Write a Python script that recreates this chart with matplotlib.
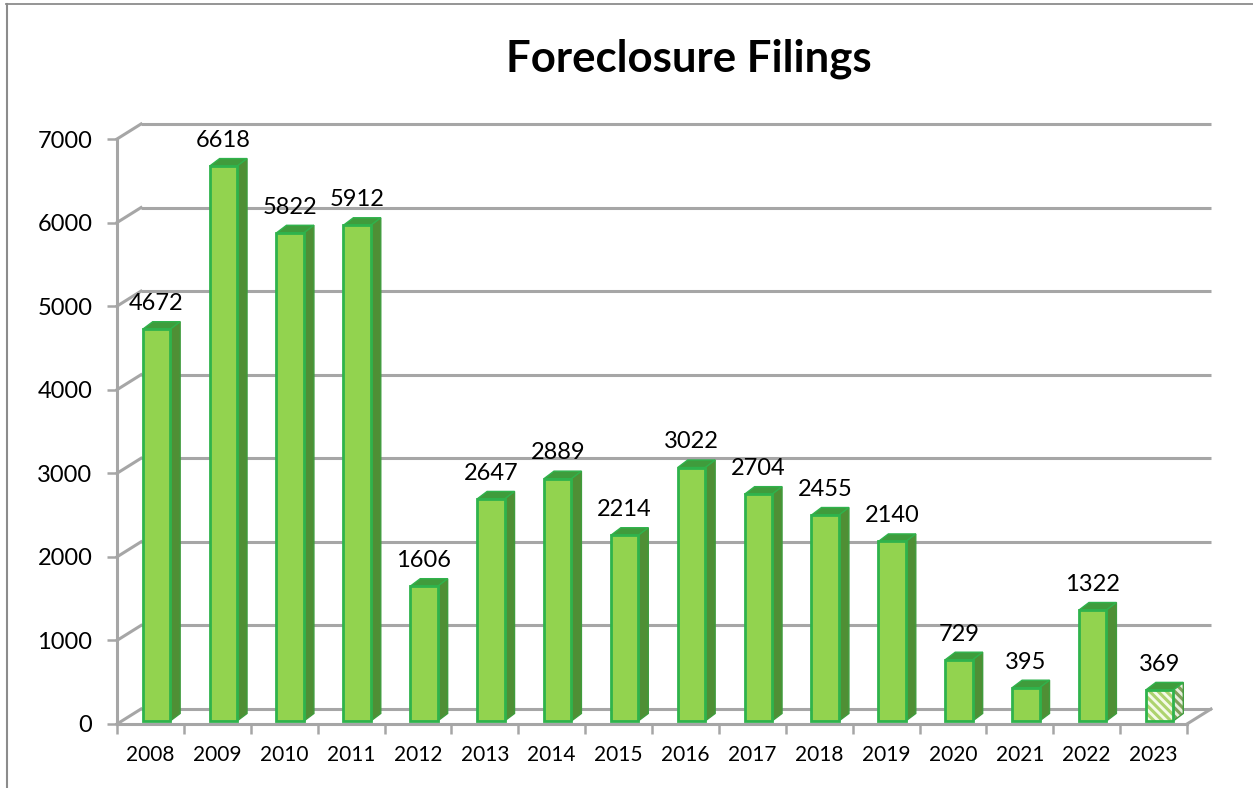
import matplotlib.pyplot as plt
from matplotlib.lines import Line2D
from matplotlib.patches import Polygon
from matplotlib.transforms import IdentityTransform, ScaledTranslation

plt.rcParams['font.family'] = ['Lato', 'DejaVu Sans']
plt.rcParams['hatch.linewidth'] = 2.2

# data
years = [2008, 2009, 2010, 2011, 2012, 2013, 2014, 2015,
         2016, 2017, 2018, 2019, 2020, 2021, 2022, 2023]
filings = [4672, 6618, 5822, 5912, 1606, 2647, 2889, 2214,
           3022, 2704, 2455, 2140, 729, 395, 1322, 369]
y_ticks = [0, 1000, 2000, 3000, 4000, 5000, 6000, 7000]
partial_year = 2023

W, H = 1253, 788
fig = plt.figure(figsize=(W / 100, H / 100), dpi=100)

# front plane of the fake 3d box, in pixels
left, right, bottom, top = 117, 1187, 724, 139
ax = fig.add_axes([left / W, 1 - bottom / H, (right - left) / W, (bottom - top) / H])
ax.set_xlim(0, len(years))
ax.set_ylim(0, 7000)
ax.axis('off')

GRID = '#a6a6a6'
FRONT = '#92d34f'
SIDE = '#4f8f35'
ROOF = '#3f9c3c'
EDGE = '#2fb34c'
DEPTH_X, DEPTH_Y = 24, 15


def slant(x, y):
    # short line going back into the box, x,y in data
    px, py = ax.transData.transform((x, y))
    ax.add_line(Line2D([px, px + DEPTH_X], [py, py + DEPTH_Y], color=GRID, lw=2.2,
                       transform=IdentityTransform(), clip_on=False, zorder=1))


wall = ax.transData + ScaledTranslation(DEPTH_X / 100, DEPTH_Y / 100, fig.dpi_scale_trans)
label_shift = ax.transData + ScaledTranslation(0, -2 / 100, fig.dpi_scale_trans)
for v in y_ticks:
    ax.plot([0, len(years)], [v, v], color=GRID, lw=2.2, transform=wall,
            clip_on=False, solid_capstyle='butt', zorder=1)
    slant(0, v)
    ax.plot([0], [v], marker=0, ms=7, mew=1.8, color=GRID, clip_on=False, zorder=1)
    ax.text(-0.37, v, str(v), ha='right', va='center', fontsize=17, color='black',
            clip_on=False, transform=label_shift)

# floor front edge and right edge, left axis
ax.plot([0, len(years)], [0, 0], color=GRID, lw=2.2, clip_on=False, zorder=1)
ax.plot([0, 0], [0, 7000], color=GRID, lw=2.2, clip_on=False, zorder=1)
slant(len(years), 0)

for i, yr in enumerate(years):
    ax.plot([i], [0], marker=3, ms=7, mew=1.8, color=GRID, clip_on=False, zorder=1)
    ax.text(i + 0.5, -370, str(yr), ha='center', va='center', fontsize=15, clip_on=False)
ax.plot([len(years)], [0], marker=3, ms=7, mew=1.8, color=GRID, clip_on=False, zorder=1)

# bars
bar_w = 0.41
bar_off = 0.59  # bars sit a bit right of the category centre
dx = 10 / 66.9
dy = 90
base = 36
for i, (yr, v) in enumerate(zip(years, filings)):
    xc = i + bar_off
    x1 = xc - bar_w / 2
    x2 = x1 + bar_w
    y2 = v * 1.003 + 38
    part = yr == partial_year
    side_pts = [(x2, base), (x2 + dx, base + dy), (x2 + dx, y2 + dy), (x2, y2)]

    if part:
        ax.add_patch(Polygon(side_pts, closed=True, facecolor='#e8eedd',
                             edgecolor='#7f9f5a', hatch='\\\\\\\\', lw=0, zorder=3))
        ax.add_patch(Polygon(side_pts, closed=True, facecolor='none',
                             edgecolor=ROOF, lw=1.0, zorder=3))
    else:
        ax.add_patch(Polygon(side_pts, closed=True, facecolor=SIDE,
                             edgecolor=ROOF, lw=1.0, zorder=3))
    ax.add_patch(Polygon([(x1, y2), (x1 + dx, y2 + dy), (x2 + dx, y2 + dy), (x2, y2)],
                         closed=True, facecolor=ROOF, edgecolor=EDGE, lw=1.0, zorder=3))
    if part:
        ax.bar(xc, y2 - base, bar_w, bottom=base, facecolor='#f4fae8',
               edgecolor='#add36e', hatch='\\\\\\\\', lw=0, zorder=4)
        ax.bar(xc, y2 - base, bar_w, bottom=base, facecolor='none',
               edgecolor=EDGE, lw=2, zorder=5)
    else:
        ax.bar(xc, y2 - base, bar_w, bottom=base, facecolor=FRONT,
               edgecolor=EDGE, lw=2, zorder=4)
    ax.annotate(str(v), (xc, y2), xytext=(0, 18.5), textcoords='offset points',
                ha='center', va='center', fontsize=17, zorder=6, annotation_clip=False)

fig.text(689 / W, 1 - 59 / H, 'Foreclosure Filings', ha='center', va='center',
         fontsize=31.5, fontweight='bold')

# chart frame, only left and top show up
fig.add_artist(Line2D([7 / W, 7 / W], [0, 1 - 3.5 / H], color='#8c8c8c', lw=1.5))
fig.add_artist(Line2D([6 / W, 1], [1 - 3.5 / H, 1 - 3.5 / H], color='#8c8c8c', lw=1.3))

fig.savefig('out.png', dpi=100)
